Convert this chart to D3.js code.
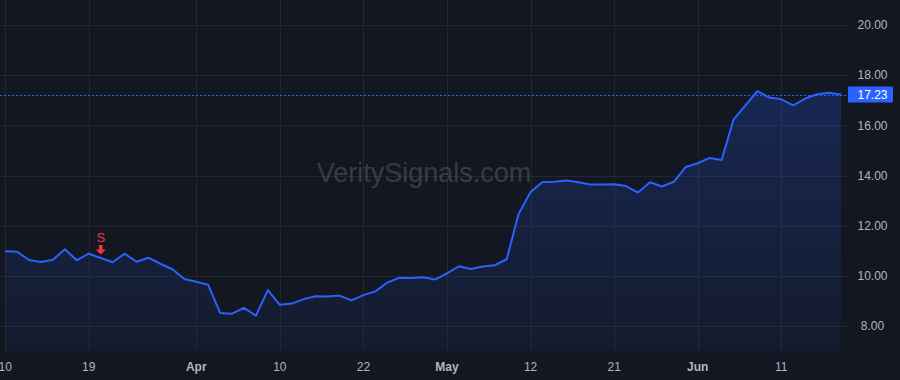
<!DOCTYPE html>
<html>
<head>
<meta charset="utf-8">
<script src="https://cdn.jsdelivr.net/npm/d3@7"></script>
<style>
  body { margin: 0; background: #131722; }
  svg { display: block; font-family: "Liberation Sans", Arial, sans-serif; }
</style>
</head>
<body>
<div id="chart"></div>
<script>
// trading days, Mar 10 - Jun 18
var dates = [
  "2025-03-10","2025-03-11","2025-03-12","2025-03-13","2025-03-14",
  "2025-03-17","2025-03-18","2025-03-19","2025-03-20","2025-03-21",
  "2025-03-24","2025-03-25","2025-03-26","2025-03-27","2025-03-28",
  "2025-03-31","2025-04-01","2025-04-02","2025-04-03","2025-04-04",
  "2025-04-07","2025-04-08","2025-04-09","2025-04-10","2025-04-11",
  "2025-04-14","2025-04-15","2025-04-16","2025-04-17","2025-04-21",
  "2025-04-22","2025-04-23","2025-04-24","2025-04-25","2025-04-28",
  "2025-04-29","2025-04-30","2025-05-01","2025-05-02","2025-05-05",
  "2025-05-06","2025-05-07","2025-05-08","2025-05-09","2025-05-12",
  "2025-05-13","2025-05-14","2025-05-15","2025-05-16","2025-05-19",
  "2025-05-20","2025-05-21","2025-05-22","2025-05-23","2025-05-27",
  "2025-05-28","2025-05-29","2025-05-30","2025-06-02","2025-06-03",
  "2025-06-04","2025-06-05","2025-06-06","2025-06-09","2025-06-10",
  "2025-06-11","2025-06-12","2025-06-13","2025-06-16","2025-06-17",
  "2025-06-18"
];

var prices = [
  10.98, 10.96, 10.63, 10.55, 10.64, 11.06, 10.62, 10.88, 10.71, 10.54,
  10.88, 10.56, 10.72, 10.48, 10.26, 9.87, 9.76, 9.64, 8.52, 8.49,
  8.72, 8.41, 9.43, 8.84, 8.89, 9.07, 9.18, 9.17, 9.21, 9.02,
  9.23, 9.38, 9.73, 9.92, 9.91, 9.94, 9.85, 10.10, 10.38, 10.27,
  10.37, 10.42, 10.66, 12.47, 13.34, 13.74, 13.75, 13.80, 13.73, 13.64,
  13.64, 13.65, 13.58, 13.32, 13.73, 13.56, 13.75, 14.34, 14.49, 14.70,
  14.62, 16.23, 16.80, 17.37, 17.11, 17.04, 16.80, 17.07, 17.24, 17.30,
  17.23
];

var tickDates = ["2025-03-10","2025-03-19","2025-04-01","2025-04-10","2025-04-22",
                 "2025-05-01","2025-05-12","2025-05-21","2025-06-02","2025-06-11"];
var tickLabels = ["10","19","Apr","10","22","May","12","21","Jun","11"];
var priceTicks = [8, 10, 12, 14, 16, 18, 20];

var signalDates = ["2025-03-20"];
var signalTexts = ["S"];

var watermark = "VeritySignals.com";

var W = 900, H = 380,
    plotW = 848, plotH = 351;

var svg = d3.select("#chart").append("svg")
    .attr("width", W)
    .attr("height", H);

svg.append("rect")
    .attr("width", W).attr("height", H)
    .attr("fill", "#131722");

var data = prices.map(function(p, i) { return { i: i, date: dates[i], value: p }; });

// x by bar index, y by price
var x = d3.scaleLinear().domain([0, prices.length - 1]).range([5.2, 841]);
var y = d3.scaleLinear().domain([7, 21]).range([plotH, 0]);

// grid
var grid = svg.append("g").attr("stroke", "#22262f").attr("stroke-width", 1);
grid.selectAll(".hg").data(priceTicks).enter().append("line")
    .attr("x1", 0).attr("x2", plotW)
    .attr("y1", function(d) { return Math.round(y(d)) + 0.5; })
    .attr("y2", function(d) { return Math.round(y(d)) + 0.5; });
grid.selectAll(".vg").data(tickDates).enter().append("line")
    .attr("x1", function(d) { return Math.round(x(dates.indexOf(d))) + 0.5; })
    .attr("x2", function(d) { return Math.round(x(dates.indexOf(d))) + 0.5; })
    .attr("y1", 0).attr("y2", plotH);

// watermark
svg.append("text")
    .attr("x", 424).attr("y", 182)
    .attr("text-anchor", "middle")
    .attr("font-size", "27px")
    .attr("fill", "rgba(255,255,255,0.17)")
    .text(watermark);

// area gradient
var defs = svg.append("defs");
var grad = defs.append("linearGradient")
    .attr("id", "areaGrad")
    .attr("gradientUnits", "userSpaceOnUse")
    .attr("x1", 0).attr("x2", 0)
    .attr("y1", y(d3.max(prices))).attr("y2", plotH);
grad.append("stop").attr("offset", "0%").attr("stop-color", "#2962ff").attr("stop-opacity", 0.22);
grad.append("stop").attr("offset", "100%").attr("stop-color", "#2962ff").attr("stop-opacity", 0.05);

var area = d3.area()
    .x(function(d) { return x(d.i); })
    .y0(plotH)
    .y1(function(d) { return y(d.value); });

svg.append("path")
    .datum(data)
    .attr("fill", "url(#areaGrad)")
    .attr("d", area);

// last price line
var last = prices[prices.length - 1];
svg.append("line")
    .attr("x1", 0).attr("x2", plotW)
    .attr("y1", Math.round(y(last)) + 0.5).attr("y2", Math.round(y(last)) + 0.5)
    .attr("stroke", "#2962ff")
    .attr("stroke-width", 1)
    .attr("stroke-dasharray", "2,2");

var line = d3.line()
    .x(function(d) { return x(d.i); })
    .y(function(d) { return y(d.value); });

svg.append("path")
    .datum(data)
    .attr("fill", "none")
    .attr("stroke", "#2962ff")
    .attr("stroke-width", 2)
    .attr("stroke-linejoin", "round")
    .attr("d", line);

// signal markers
signalDates.forEach(function(sd, k) {
    var i = dates.indexOf(sd),
        cx = x(i), cy = y(prices[i]);
    var g = svg.append("g").attr("fill", "#f23645");
    g.append("text")
        .attr("x", cx).attr("y", cy - 15.5)
        .attr("text-anchor", "middle")
        .attr("font-size", "13px")
        .text(signalTexts[k]);
    g.append("path")
        .attr("d", "M" + (cx - 1.8) + "," + (cy - 13) +
                   "H" + (cx + 1.8) + "V" + (cy - 8.5) +
                   "H" + (cx + 5) + "L" + cx + "," + (cy - 3.6) +
                   "L" + (cx - 5) + "," + (cy - 8.5) +
                   "H" + (cx - 1.8) + "Z");
});

// price axis
svg.append("g").selectAll("text").data(priceTicks).enter().append("text")
    .attr("x", 872.5)
    .attr("y", function(d) { return y(d); })
    .attr("dy", "0.35em")
    .attr("text-anchor", "middle")
    .attr("font-size", "12px")
    .attr("fill", "#b2b5be")
    .text(function(d) { return d.toFixed(2); });

// last price label
svg.append("rect")
    .attr("x", 848).attr("y", y(last) - 8)
    .attr("width", 45).attr("height", 16)
    .attr("rx", 1)
    .attr("fill", "#2962ff");
svg.append("text")
    .attr("x", 872.5).attr("y", y(last))
    .attr("dy", "0.35em")
    .attr("text-anchor", "middle")
    .attr("font-size", "12px")
    .attr("fill", "#ffffff")
    .text(last.toFixed(2));

// time axis
svg.append("g").selectAll("text").data(tickDates).enter().append("text")
    .attr("x", function(d) { return x(dates.indexOf(d)); })
    .attr("y", 371)
    .attr("text-anchor", "middle")
    .attr("font-size", "12px")
    .attr("font-weight", function(d, i) { return isNaN(+tickLabels[i]) ? "bold" : "normal"; })
    .attr("fill", "#b2b5be")
    .text(function(d, i) { return tickLabels[i]; });
</script>
</body>
</html>
